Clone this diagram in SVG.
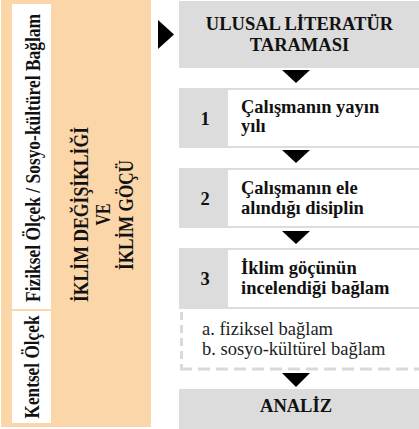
<svg xmlns="http://www.w3.org/2000/svg" width="419" height="429" viewBox="0 0 419 429">
<style>
.b{font-family:"Liberation Serif","Times New Roman",serif;font-weight:bold;font-size:18.5px;fill:#111}
.r{font-family:"Liberation Serif","Times New Roman",serif;font-size:18.5px;fill:#222}
.v{font-family:"Liberation Serif","Times New Roman",serif;font-weight:bold;font-size:20px;fill:#111}
.g{fill:#DCDCDC}
.w{fill:#FFFFFF}
.arr{fill:#000}
.dash{stroke:#D9D9D9;stroke-width:3;fill:none}
</style>
<rect width="419" height="429" fill="#FFFFFF"/>
<g id="panel">
<rect x="1" y="0" width="150" height="427" fill="#FBD6A8"/>
</g>
<g id="strip-fiziksel">
<rect x="12" y="4" width="39" height="305" class="w"/>
<text class="v" transform="translate(40,158) rotate(-90)" text-anchor="middle" textLength="288" lengthAdjust="spacingAndGlyphs">Fiziksel Ölçek / Sosyo-kültürel Bağlam</text>
</g>
<g id="strip-kentsel">
<rect x="12" y="311" width="39" height="112" class="w"/>
<text class="v" transform="translate(39,367) rotate(-90)" text-anchor="middle" textLength="103" lengthAdjust="spacingAndGlyphs">Kentsel Ölçek</text>
</g>
<g id="title">
<text class="v" transform="translate(88,214.5) rotate(-90)" text-anchor="middle" textLength="175" lengthAdjust="spacingAndGlyphs">İKLİM DEĞİŞİKLİĞİ</text>
<text class="v" transform="translate(110,214.5) rotate(-90)" text-anchor="middle" textLength="22" lengthAdjust="spacingAndGlyphs">VE</text>
<text class="v" transform="translate(133,215) rotate(-90)" text-anchor="middle" textLength="110" lengthAdjust="spacingAndGlyphs">İKLİM GÖÇÜ</text>
</g>
<g id="ulusal">
<rect x="179" y="1" width="240" height="67" class="g"/>
<text class="b" x="299.5" y="30" text-anchor="middle">ULUSAL LİTERATÜR</text>
<text class="b" x="299.5" y="50.5" text-anchor="middle">TARAMASI</text>
</g>
<g id="step1">
<rect x="179" y="88" width="240" height="60" class="g"/>
<rect x="228" y="90" width="191" height="56" class="w"/>
<text class="b" x="205" y="125" text-anchor="middle">1</text>
<text class="b" x="241" y="113">Çalışmanın yayın</text>
<text class="b" x="241" y="132">yılı</text>
</g>
<g id="step2">
<rect x="179" y="168" width="240" height="60" class="g"/>
<rect x="228" y="170" width="191" height="56" class="w"/>
<text class="b" x="205" y="205" text-anchor="middle">2</text>
<text class="b" x="241" y="194">Çalışmanın ele</text>
<text class="b" x="241" y="214">alındığı disiplin</text>
</g>
<g id="step3">
<rect x="179" y="248" width="240" height="61" class="g"/>
<rect x="228" y="250" width="191" height="57" class="w"/>
<text class="b" x="205" y="285" text-anchor="middle">3</text>
<text class="b" x="241" y="274">İklim göçünün</text>
<text class="b" x="241" y="294">incelendiği bağlam</text>
</g>
<g id="context">
<path class="dash" d="M181.5,312 V369" stroke-dasharray="8 5"/>
<path class="dash" d="M180,369 H419" stroke-dasharray="12 6"/>
<text class="r" x="202" y="335">a. fiziksel bağlam</text>
<text class="r" x="202" y="355">b. sosyo-kültürel bağlam</text>
</g>
<g id="analiz">
<rect x="179" y="389" width="240" height="40" class="g"/>
<text class="b" x="296" y="412" text-anchor="middle">ANALİZ</text>
</g>
<g id="connectors">
<polygon class="arr" points="158,20 174,34.5 158,49"/>
<polygon class="arr" points="282,70 310,70 296,83"/>
<polygon class="arr" points="282,150 310,150 296,163"/>
<polygon class="arr" points="282,231 310,231 296,244"/>
<polygon class="arr" points="282,373 310,373 296,387"/>
</g>
</svg>
